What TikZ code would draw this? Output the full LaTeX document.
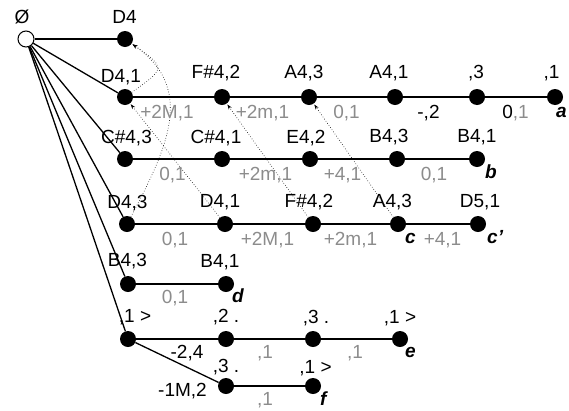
\documentclass[tikz,border=0pt]{standalone}
\usepackage{fontspec}
\setmainfont{Liberation Sans}
\usetikzlibrary{arrows.meta}
\definecolor{lblgray}{gray}{0.55}
\begin{document}
\begin{tikzpicture}[x=1pt,y=-1pt,
  blob/.style={circle,fill=black,inner sep=0pt,minimum size=16pt},
  rootdot/.style={circle,draw=black,fill=white,line width=1pt,inner sep=0pt,minimum size=16pt},
  treeedge/.style={line width=1.3pt},
  rowline/.style={line width=1.1pt},
  lab/.style={font=\fontsize{19}{19}\selectfont,inner sep=0pt,anchor=base},
  glab/.style={lab,text=lblgray},
  leaf/.style={font=\fontsize{19}{19}\selectfont\bfseries\itshape,inner sep=0pt,anchor=base west},
  xref/.style={dotted,line width=0.6pt,-{Stealth[length=5pt,width=3.5pt]},shorten >=1pt}
]
\useasboundingbox (0,0) rectangle (569,410);
% nodes
\node[rootdot] (root) at (26,39) {};
\node[blob] (d4) at (125,39) {};
% row a
\node[blob] (a1) at (125,97) {};
\node[blob] (a2) at (222,97) {};
\node[blob] (a3) at (309,97) {};
\node[blob] (a4) at (395,97) {};
\node[blob] (a5) at (477,97) {};
\node[blob] (a6) at (555,97) {};
% row b
\node[blob] (b1) at (125,159) {};
\node[blob] (b2) at (222,159) {};
\node[blob] (b3) at (310,159) {};
\node[blob] (b4) at (397,159) {};
\node[blob] (b5) at (477,159) {};
% row c
\node[blob] (c1) at (127,224) {};
\node[blob] (c2) at (225,224) {};
\node[blob] (c3) at (313,224) {};
\node[blob] (c4) at (398,224) {};
\node[blob] (c5) at (478,224) {};
% row d
\node[blob] (d1) at (128,284) {};
\node[blob] (d2) at (226,284) {};
% row e
\node[blob] (e1) at (128,339) {};
\node[blob] (e2) at (226,339) {};
\node[blob] (e3) at (313,339) {};
\node[blob] (e4) at (400,339) {};
% row f
\node[blob] (f1) at (226,386) {};
\node[blob] (f2) at (313,386) {};

% tree edges
\foreach \t in {d4,a1,b1,c1,d1,e1} \draw[treeedge] (root) -- (\t);
\draw[treeedge] (e1) -- (f1);
% row lines
\draw[rowline] (a1) -- (a2) -- (a3) -- (a4) -- (a5) -- (a6);
\draw[rowline] (b1) -- (b2) -- (b3) -- (b4) -- (b5);
\draw[rowline] (c1) -- (c2) -- (c3) -- (c4) -- (c5);
\draw[rowline] (d1) -- (d2);
\draw[rowline] (e1) -- (e2) -- (e3) -- (e4);
\draw[rowline] (f1) -- (f2);

% dotted reference arrows
\draw[xref] (c1) to[out=62,in=-35,looseness=1.15] (d4);
\draw[xref] (a1) to[out=35,in=-35,looseness=2.2] (d4);
\draw[xref] (c2) -- (a1);
\draw[xref] (c3) -- (a2);
\draw[xref] (c4) -- (a3);

% node labels
\node[lab] (tl0) at (22,23) {Ø};
\node[lab] (tl1) at (124.5,23) {D4};
\node[lab] (tla1) at (121,82) {D4,1};
\node[lab] (tla2) at (216,78) {F\#4,2};
\node[lab] (tla3) at (304,78) {A4,3};
\node[lab] (tla4) at (389,78) {A4,1};
\node[lab] (tla5) at (476,78) {,3};
\node[lab] (tla6) at (551.5,78) {,1};
\node[lab] (tlb1) at (126.5,143) {C\#4,3};
\node[lab] (tlb2) at (216,143) {C\#4,1};
\node[lab] (tlb3) at (306,143) {E4,2};
\node[lab] (tlb4) at (389,142) {B4,3};
\node[lab] (tlb5) at (477,142) {B4,1};
\node[lab] (tlc1) at (127.5,208) {D4,3};
\node[lab] (tlc2) at (220,207) {D4,1};
\node[lab] (tlc3) at (309,207) {F\#4,2};
\node[lab] (tlc4) at (392.5,207) {A4,3};
\node[lab] (tlc5) at (480,207) {D5,1};
\node[lab] (tld1) at (127.5,266) {B4,3};
\node[lab] (tld2) at (220,267) {B4,1};
\node[lab] (tle1) at (135,322) {,1 >};
\node[lab] (tle2) at (226,322) {,2 .};
\node[lab] (tle3) at (316,323) {,3 .};
\node[lab] (tle4) at (400,323) {,1 >};
\node[lab] (tlf1) at (226,372) {,3 .};
\node[lab] (tlf2) at (315.5,373) {,1 >};

% edge labels
\node[glab] (ga1) at (167,118) {+2M,1};
\node[glab] (ga2) at (262.5,118) {+2m,1};
\node[glab] (ga3) at (346.5,118) {0,1};
\node[lab] (ga4) at (428.5,118) {-,2};
\node[lab] (ga5) at (515.5,118) {0\textcolor{lblgray}{,1}};
\node[glab] (gb1) at (172.5,180) {0,1};
\node[glab] (gb2) at (265.5,180) {+2m,1};
\node[glab] (gb3) at (342.5,180) {+4,1};
\node[glab] (gb4) at (434,180) {0,1};
\node[glab] (gc1) at (175,245) {0,1};
\node[glab] (gc2) at (267.5,245) {+2M,1};
\node[glab] (gc3) at (350.5,245) {+2m,1};
\node[glab] (gc4) at (442.5,245) {+4,1};
\node[glab] (gd1) at (175,303) {0,1};
\node[glab] (ge1) at (265,358) {,1};
\node[glab] (ge2) at (355,358) {,1};
\node[glab] (gf1) at (265,405) {,1};
\node[lab] (gef) at (187,358) {-2,4};
\node[lab] (gf0) at (182.5,396) {-1M,2};

% leaf letters
\node[leaf] (la) at (556,117) {a};
\node[leaf] (lb) at (485,178) {b};
\node[leaf] (lc) at (405,243) {c};
\node[leaf] (lcp) at (487,243) {c’};
\node[leaf] (ld) at (232,302) {d};
\node[leaf] (le) at (405,357) {e};
\node[leaf] (lf) at (320,405) {f};
\end{tikzpicture}
\end{document}
